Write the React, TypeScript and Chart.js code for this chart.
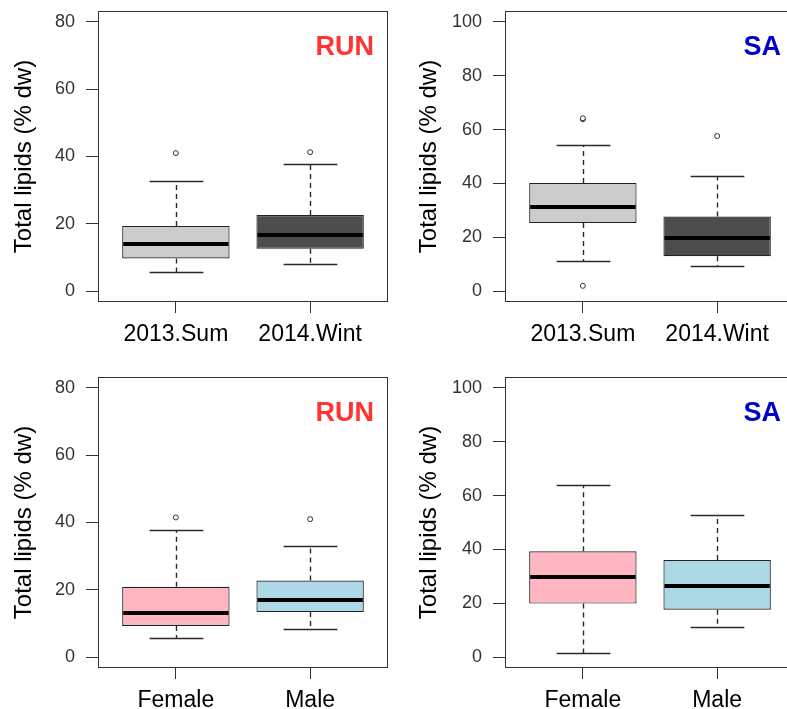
import React, { useEffect, useRef } from "react";
import { Chart, registerables } from "chart.js";

Chart.register(...registerables);

// ---------- data ----------
const seasonCategories = ["2013.Sum", "2014.Wint"];
const sexCategories = ["Female", "Male"];

// box statistics per group: [lower whisker, Q1, median, Q3, upper whisker]
const runSeasonStats = [
  [5.7, 9.7, 14.1, 19.4, 32.8],
  [8.2, 12.6, 16.6, 22.6, 37.7],
];
const runSeasonOutliers = [[41.0], [41.3]];

const saSeasonStats = [
  [11.2, 25.3, 31.1, 40.2, 54.3],
  [9.4, 13.0, 19.8, 27.7, 42.8],
];
const saSeasonOutliers = [[63.8, 64.2, 2.0], [57.6]];

const runSexStats = [
  [5.8, 9.3, 13.0, 20.9, 37.7],
  [8.3, 13.4, 17.1, 22.8, 32.9],
];
const runSexOutliers = [[41.5], [41.0]];

const saSexStats = [
  [1.7, 19.9, 29.7, 39.3, 63.8],
  [11.3, 17.6, 26.5, 36.1, 52.9],
];
const saSexOutliers: number[][] = [[], []];

const runTicks = [0, 20, 40, 60, 80];
const saTicks = [0, 20, 40, 60, 80, 100];

const yTitle = "Total lipids (% dw)";

// ---------- styles ----------
const seasonColors = ["#CCCCCC", "#4D4D4D"];
const sexColors = ["#FFB6C1", "#ADD8E6"];
const runColor = "#FF3333";
const saColor = "#0000CD";
const FONT = "'Liberation Sans', Arial, Helvetica, sans-serif";
const LINE = "#333333";

type PanelProps = {
  left: number;
  top: number;
  width: number;
  height: number;
  yAxisWidth: number;
  titlePad: number;
  categories: string[];
  stats: number[][];
  outliers: number[][];
  colors: string[];
  yTicks: number[];
  label: string;
  labelColor: string;
};

function BoxPanel(p: PanelProps) {
  const ref = useRef<HTMLCanvasElement>(null);

  useEffect(() => {
    const canvas = ref.current;
    if (!canvas) return;
    const n = p.categories.length;
    const yLo = p.yTicks[0];
    const yHi = p.yTicks[p.yTicks.length - 1];
    const yExt = (yHi - yLo) * 0.04;
    const xExt = n * 0.04;

    const boxData = p.stats.map((s, i) => ({ x: i + 1, y: [s[1], s[3]] }));
    const outData = p.outliers.flatMap((arr, i) => arr.map((v) => ({ x: i + 1, y: v })));

    const boxPlugin = {
      id: "boxExtras",
      beforeDatasetsDraw(chart: any) {
        const ctx = chart.ctx;
        const xs = chart.scales.x;
        const ys = chart.scales.y;
        const halfBox = xs.getPixelForValue(1.4) - xs.getPixelForValue(1);
        ctx.save();
        ctx.strokeStyle = "#2A2A2A";
        ctx.lineWidth = 1.4;
        p.stats.forEach((s, i) => {
          const cx = Math.round(xs.getPixelForValue(i + 1)) + 0.5;
          const yLw = Math.round(ys.getPixelForValue(s[0])) + 0.5;
          const yQ1 = ys.getPixelForValue(s[1]);
          const yQ3 = ys.getPixelForValue(s[3]);
          const yUw = Math.round(ys.getPixelForValue(s[4])) + 0.5;
          // dashed whiskers
          ctx.setLineDash([5, 4]);
          ctx.beginPath();
          ctx.moveTo(cx, yQ3);
          ctx.lineTo(cx, yUw);
          ctx.moveTo(cx, yQ1);
          ctx.lineTo(cx, yLw);
          ctx.stroke();
          // caps
          ctx.setLineDash([]);
          ctx.beginPath();
          ctx.moveTo(cx - halfBox / 2, yUw);
          ctx.lineTo(cx + halfBox / 2, yUw);
          ctx.moveTo(cx - halfBox / 2, yLw);
          ctx.lineTo(cx + halfBox / 2, yLw);
          ctx.stroke();
        });
        ctx.restore();
      },
      afterDatasetsDraw(chart: any) {
        const ctx = chart.ctx;
        const xs = chart.scales.x;
        const ys = chart.scales.y;
        const halfBox = xs.getPixelForValue(1.4) - xs.getPixelForValue(1);
        ctx.save();
        ctx.strokeStyle = "#000000";
        ctx.lineWidth = 4;
        ctx.lineCap = "butt";
        p.stats.forEach((s, i) => {
          const cx = xs.getPixelForValue(i + 1);
          const ym = Math.round(ys.getPixelForValue(s[2]));
          ctx.beginPath();
          ctx.moveTo(cx - halfBox + 1, ym);
          ctx.lineTo(cx + halfBox - 1, ym);
          ctx.stroke();
        });
        ctx.restore();
      },
      afterDraw(chart: any) {
        const ctx = chart.ctx;
        const a = chart.chartArea;
        ctx.save();
        ctx.strokeStyle = LINE;
        ctx.lineWidth = 1;
        ctx.strokeRect(
          Math.round(a.left) + 0.5,
          Math.round(a.top) + 0.5,
          Math.round(a.right - a.left) - 1,
          Math.round(a.bottom - a.top) - 1
        );
        ctx.fillStyle = p.labelColor;
        ctx.font = `bold 27px ${FONT}`;
        ctx.textAlign = "right";
        ctx.textBaseline = "alphabetic";
        ctx.fillText(p.label, a.right - 14, a.top + 44);
        ctx.restore();
      },
    };

    const chart = new Chart(canvas, {
      type: "bar",
      data: {
        datasets: [
          {
            type: "bar",
            data: boxData as any,
            backgroundColor: p.colors,
            borderColor: "#222222",
            borderWidth: 1.2,
            borderSkipped: false,
            categoryPercentage: 0.8,
            barPercentage: 1,
          } as any,
          {
            type: "scatter",
            data: outData as any,
            pointRadius: 2.5,
            pointBorderWidth: 1,
            pointBorderColor: LINE,
            pointBackgroundColor: "#FFFFFF",
            showLine: false,
          } as any,
        ],
      },
      options: {
        animation: false,
        responsive: false,
        events: [],
        layout: {
          padding: { top: 11, left: 0, right: p.width - p.yAxisWidth - 290, bottom: 0 },
        },
        plugins: {
          legend: { display: false },
          tooltip: { enabled: false },
        },
        scales: {
          x: {
            type: "linear",
            min: 1 - 0.5 - xExt,
            max: n + 0.5 + xExt,
            offset: false,
            afterBuildTicks: (s: any) => {
              s.ticks = p.categories.map((_, i) => ({ value: i + 1 }));
            },
            afterFit: (s: any) => {
              s.height = p.height - 11 - 291;
              s.paddingLeft = 0;
              s.paddingRight = 0;
            },
            grid: {
              offset: false,
              drawOnChartArea: false,
              drawTicks: true,
              tickLength: 11,
              tickColor: LINE,
              lineWidth: 1,
            },
            border: { display: false },
            ticks: {
              autoSkip: false,
              maxRotation: 0,
              padding: 8,
              color: "#000000",
              font: { family: FONT, size: 23 },
              callback: (_v: any, idx: number) => p.categories[idx],
            },
          },
          y: {
            type: "linear",
            min: yLo - yExt,
            max: yHi + yExt,
            afterBuildTicks: (s: any) => {
              s.ticks = p.yTicks.map((v) => ({ value: v }));
            },
            afterFit: (s: any) => {
              s.width = p.yAxisWidth;
              s.paddingTop = 0;
              s.paddingBottom = 0;
            },
            grid: {
              offset: false,
              drawOnChartArea: false,
              drawTicks: true,
              tickLength: 12,
              tickColor: LINE,
              lineWidth: 1,
            },
            border: { display: false },
            ticks: {
              padding: 11,
              color: "#333333",
              font: { family: FONT, size: 18 },
            },
            title: {
              display: true,
              text: yTitle,
              color: "#000000",
              font: { family: FONT, size: 24 },
              padding: { top: p.titlePad, bottom: 0 },
            },
          },
        },
      } as any,
      plugins: [boxPlugin],
    });
    return () => chart.destroy();
  }, []);

  return (
    <canvas
      ref={ref}
      width={p.width}
      height={p.height}
      style={{
        position: "absolute",
        left: p.left,
        top: p.top,
        width: p.width,
        height: p.height,
      }}
    />
  );
}

export default function App() {
  return (
    <div
      style={{
        position: "fixed",
        left: 0,
        top: 0,
        width: 787,
        height: 709,
        overflow: "hidden",
        background: "#FFFFFF",
      }}
    >
      <BoxPanel
        left={0}
        top={0}
        width={395}
        height={350}
        yAxisWidth={98}
        titlePad={9.6}
        categories={seasonCategories}
        stats={runSeasonStats}
        outliers={runSeasonOutliers}
        colors={seasonColors}
        yTicks={runTicks}
        label="RUN"
        labelColor={runColor}
      />
      <BoxPanel
        left={395}
        top={0}
        width={410}
        height={350}
        yAxisWidth={110}
        titlePad={19.6}
        categories={seasonCategories}
        stats={saSeasonStats}
        outliers={saSeasonOutliers}
        colors={seasonColors}
        yTicks={saTicks}
        label="SA"
        labelColor={saColor}
      />
      <BoxPanel
        left={0}
        top={366}
        width={395}
        height={350}
        yAxisWidth={98}
        titlePad={9.6}
        categories={sexCategories}
        stats={runSexStats}
        outliers={runSexOutliers}
        colors={sexColors}
        yTicks={runTicks}
        label="RUN"
        labelColor={runColor}
      />
      <BoxPanel
        left={395}
        top={366}
        width={410}
        height={350}
        yAxisWidth={110}
        titlePad={19.6}
        categories={sexCategories}
        stats={saSexStats}
        outliers={saSexOutliers}
        colors={sexColors}
        yTicks={saTicks}
        label="SA"
        labelColor={saColor}
      />
    </div>
  );
}
